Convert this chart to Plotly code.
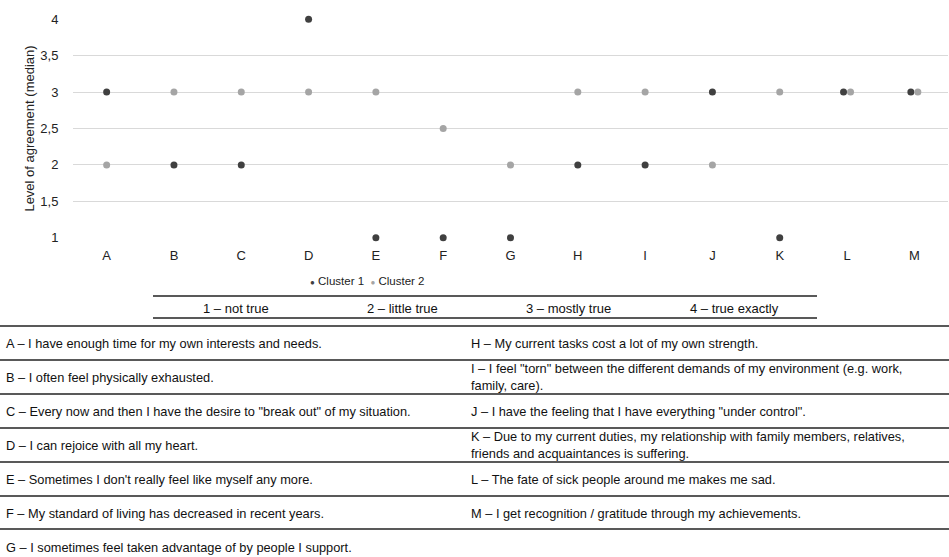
import plotly.graph_objects as go

categories = ["A", "B", "C", "D", "E", "F", "G", "H", "I", "J", "K", "L", "M"]
cluster1 = [3, 2, 2, 4, 1, 1, 1, 2, 2, 3, 1, 3, 3]
cluster2 = [2, 3, 3, 3, 3, 2.5, 2, 3, 3, 2, 3, 3, 3]
series_names = ["Cluster 1", "Cluster 2"]
series_colors = ["#404040", "#a5a5a5"]
y_tickvals = [1, 1.5, 2, 2.5, 3, 3.5, 4]
y_ticktext = ["1", "1,5", "2", "2,5", "3", "3,5", "4"]
scale_labels = ["1 – not true", "2 – little true", "3 – mostly true", "4 – true exactly"]
statements_left = [
    "A – I have enough time for my own interests and needs.",
    "B – I often feel physically exhausted.",
    "C – Every now and then I have the desire to \"break out\" of my situation.",
    "D – I can rejoice with all my heart.",
    "E – Sometimes I don't really feel like myself any more.",
    "F – My standard of living has decreased in recent years.",
    "G – I sometimes feel taken advantage of by people I support.",
]
statements_right = [
    "H – My current tasks cost a lot of my own strength.",
    "I – I feel \"torn\" between the different demands of my environment (e.g. work,<br>family, care).",
    "J – I have the feeling that I have everything \"under control\".",
    "K – Due to my current duties, my relationship with family members, relatives,<br>friends and acquaintances is suffering.",
    "L – The fate of sick people around me makes me sad.",
    "M – I get recognition / gratitude through my achievements.",
]

W, H = 949, 557
L_PX, R_PX, T_PX, B_PX = 73, 948, 19, 238
FONT = "Liberation Sans, Arial, sans-serif"

def px(x):
    return (x - L_PX) / (R_PX - L_PX)

def py(y):
    return (B_PX - y) / (B_PX - T_PX)

# dodge coincident points
idx = list(range(len(categories)))
dodge = 0.052
x1 = [i - dodge if a == b else i for i, a, b in zip(idx, cluster1, cluster2)]
x2 = [i + dodge if a == b else i for i, a, b in zip(idx, cluster1, cluster2)]

fig = go.Figure()
fig.add_trace(go.Scatter(x=x1, y=cluster1, mode="markers", name=series_names[0], showlegend=False,
                         marker=dict(color=series_colors[0], size=7), cliponaxis=False))
fig.add_trace(go.Scatter(x=x2, y=cluster2, mode="markers", name=series_names[1], showlegend=False,
                         marker=dict(color=series_colors[1], size=7), cliponaxis=False))

shapes = []
annotations = []

# legend (as text with coloured bullets)
legend_text = "  ".join(
    f"<span style='color:{c}; font-size:8px'>●</span> {n}" for n, c in zip(series_names, series_colors)
)
annotations.append(dict(xref="paper", yref="paper", x=px(367), y=py(281), text=legend_text,
                        showarrow=False, xanchor="center", yanchor="middle",
                        font=dict(family=FONT, size=11.5, color="#222")))

# rating scale table
for yl in (296, 318):
    shapes.append(dict(type="line", xref="paper", yref="paper", x0=px(153), x1=px(817), y0=py(yl), y1=py(yl),
                       line=dict(color="#222", width=1.6)))
colw = (817 - 153) / len(scale_labels)
for k, lab in enumerate(scale_labels):
    annotations.append(dict(xref="paper", yref="paper", x=px(153 + colw * (k + 0.5)), y=py(308),
                            text=lab, showarrow=False, xanchor="center", yanchor="middle",
                            font=dict(family=FONT, size=13, color="#111")))

# statements table
row_lines = [326, 360, 394, 428, 462, 496, 529]
for yl in row_lines:
    shapes.append(dict(type="line", xref="paper", yref="paper", x0=px(0), x1=px(949), y0=py(yl), y1=py(yl),
                       line=dict(color="#222", width=1.6)))
row_h = 34
for k, s in enumerate(statements_left):
    yc = 326 + row_h * (k + 0.5)
    annotations.append(dict(xref="paper", yref="paper", x=px(4), y=py(yc), text=s, showarrow=False,
                            xanchor="left", yanchor="middle", align="left",
                            font=dict(family=FONT, size=12.8, color="#111")))
for k, s in enumerate(statements_right):
    yc = 326 + row_h * (k + 0.5)
    annotations.append(dict(xref="paper", yref="paper", x=px(469), y=py(yc), text=s, showarrow=False,
                            xanchor="left", yanchor="middle", align="left",
                            font=dict(family=FONT, size=12.8, color="#111")))

fig.update_layout(
    width=W, height=H,
    margin=dict(l=L_PX, r=W - R_PX, t=T_PX, b=H - B_PX, autoexpand=False),
    paper_bgcolor="white", plot_bgcolor="white",
    font=dict(family=FONT, size=12, color="#222"),
    shapes=shapes, annotations=annotations,
    showlegend=False,
    xaxis=dict(range=[-0.5, len(categories) - 0.5], tickmode="array", tickvals=idx, ticktext=categories,
               showgrid=False, zeroline=False, showline=False, ticks="outside", ticklen=5,
               tickcolor="rgba(0,0,0,0)",
               tickfont=dict(family=FONT, size=13, color="#222"), fixedrange=True),
    yaxis=dict(range=[0.996, 4.004], tickmode="array", tickvals=y_tickvals, ticktext=y_ticktext,
               showgrid=True, gridcolor="#d9d9d9", gridwidth=1, zeroline=False, showline=False,
               ticks="outside", ticklen=11, tickcolor="rgba(0,0,0,0)",
               tickfont=dict(family=FONT, size=13, color="#222"),
               title=dict(text="Level of agreement (median)", font=dict(family=FONT, size=13, color="#222"),
                          standoff=2)),
)

fig.write_html("out.html", post_script="document.body.style.margin='0';",
               config={"displayModeBar": False})
